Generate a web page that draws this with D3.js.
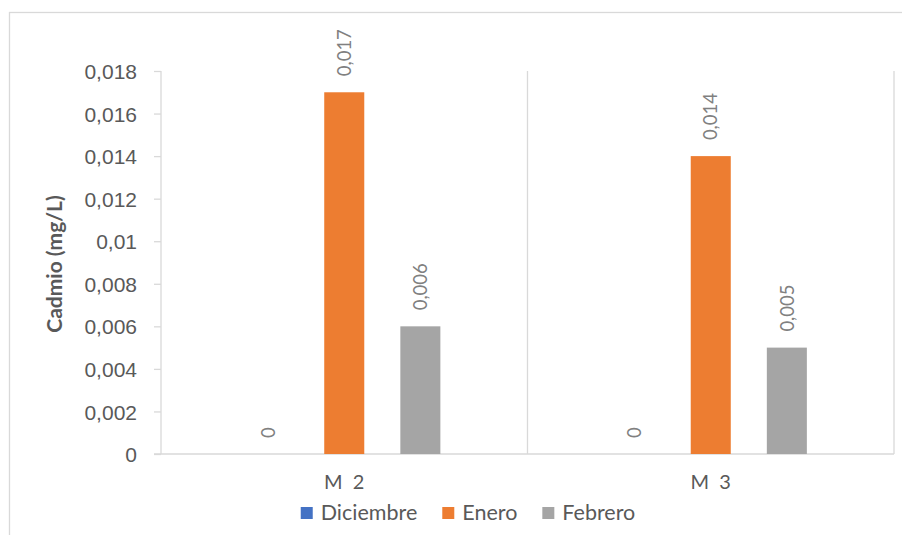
<!DOCTYPE html>
<html>
<head>
<meta charset="utf-8">
<script src="https://cdn.jsdelivr.net/npm/d3@7"></script>
<style>
  html, body { margin: 0; padding: 0; background: #fff; }
  svg { display: block; font-family: Lato, "Open Sans", sans-serif; }
</style>
</head>
<body>
<svg id="chart" width="902" height="535"></svg>
<script>
// Cadmium concentration per sampling point and month
const categories = ["M  2", "M  3"];
const seriesNames = ["Diciembre", "Enero", "Febrero"];
const diciembre = [0, 0];
const enero = [0.017, 0.014];
const febrero = [0.006, 0.005];
const yTicks = [0, 0.002, 0.004, 0.006, 0.008, 0.01, 0.012, 0.014, 0.016, 0.018];
const seriesColors = ["#4472C4", "#ED7D31", "#A5A5A5"];

const seriesValues = [diciembre, enero, febrero];
const rows = categories.map((c, i) => ({
  category: c,
  values: seriesNames.map((s, k) => ({ series: s, value: seriesValues[k][i] }))
}));

const svg = d3.select("#chart");
const plot = { left: 161, right: 894, top: 71, bottom: 454 };
const gridColor = "#d9d9d9";
const textColor = "#595959";

const locale = d3.formatLocale({ decimal: ",", thousands: ".", grouping: [3], currency: ["", "€"] });
const fmt = locale.format(".3~f");

// Chart area frame
svg.append("rect")
  .attr("x", 9.5).attr("y", 12.5)
  .attr("width", 1000).attr("height", 1000)
  .attr("fill", "none").attr("stroke", gridColor).attr("stroke-width", 1.3);

const x0 = d3.scaleBand().domain(categories).range([plot.left, plot.right]).padding(0);
const x1 = d3.scaleBand().domain(seriesNames).range([0, x0.bandwidth()])
  .paddingInner(0.474).paddingOuter(1.145);
const y = d3.scaleLinear().domain([0, 0.018]).range([plot.bottom, plot.top]);
const color = d3.scaleOrdinal().domain(seriesNames).range(seriesColors);

// Vertical separators at category boundaries
const bounds = categories.map(c => x0(c)).concat([plot.right]);
svg.append("g").selectAll("line").data(bounds).join("line")
  .attr("x1", d => d).attr("x2", d => d)
  .attr("y1", plot.top).attr("y2", plot.bottom)
  .attr("stroke", gridColor).attr("stroke-width", 1.3);

// Y axis
const yAxis = d3.axisLeft(y).tickValues(yTicks).tickFormat(fmt).tickSize(7).tickPadding(17);
const gy = svg.append("g").attr("transform", `translate(${plot.left},0)`).call(yAxis);
gy.select(".domain").remove();
gy.selectAll(".tick line").attr("stroke", gridColor).attr("stroke-width", 1.3);
gy.selectAll(".tick text")
  .attr("fill", textColor).style("font-size", "21px").attr("dy", "0.36em");

// Baseline
svg.append("line")
  .attr("x1", plot.left - 7).attr("x2", plot.right)
  .attr("y1", y(0)).attr("y2", y(0))
  .attr("stroke", gridColor).attr("stroke-width", 1.6);

// Bars
const groups = svg.append("g").selectAll("g").data(rows).join("g")
  .attr("transform", d => `translate(${x0(d.category)},0)`);

groups.selectAll("rect").data(d => d.values).join("rect")
  .attr("x", d => x1(d.series))
  .attr("width", x1.bandwidth())
  .attr("y", d => y(d.value))
  .attr("height", d => y(0) - y(d.value))
  .attr("fill", d => color(d.series));

// Value labels, rotated
groups.selectAll("text").data(d => d.values).join("text")
  .attr("transform", d => `translate(${x1(d.series) + x1.bandwidth() / 2},${y(d.value) - 16}) rotate(-90)`)
  .attr("dy", "0.36em")
  .attr("text-anchor", "start")
  .attr("fill", "#808080")
  .style("font-size", "18.5px")
  .text(d => fmt(d.value));

// Category labels
svg.append("g").selectAll("text").data(categories).join("text")
  .attr("x", d => x0(d) + x0.bandwidth() / 2)
  .attr("y", 489)
  .attr("text-anchor", "middle")
  .attr("fill", textColor)
  .style("font-size", "20px")
  .style("white-space", "pre")
  .attr("xml:space", "preserve")
  .text(d => d);

// Y axis title
svg.append("text")
  .attr("transform", `translate(62,264) rotate(-90)`)
  .attr("text-anchor", "middle")
  .attr("fill", textColor)
  .style("font-size", "21px")
  .style("font-weight", "bold")
  .text("Cadmio (mg/L)");

// Legend, centred under the plot
const legend = svg.append("g");
const items = legend.selectAll("g").data(seriesNames).join("g");
items.append("rect").attr("width", 12).attr("height", 12).attr("y", -13)
  .attr("fill", d => color(d));
items.append("text").attr("x", 20).attr("y", 0)
  .attr("fill", textColor).style("font-size", "21.5px").text(d => d);
let cursor = 0;
items.each(function () {
  const g = d3.select(this);
  g.attr("transform", `translate(${cursor},0)`);
  cursor += 20 + g.select("text").node().getComputedTextLength() + 25;
});
const legendWidth = cursor - 25;
legend.attr("transform", `translate(${468 - legendWidth / 2},520)`);
</script>
</body>
</html>
